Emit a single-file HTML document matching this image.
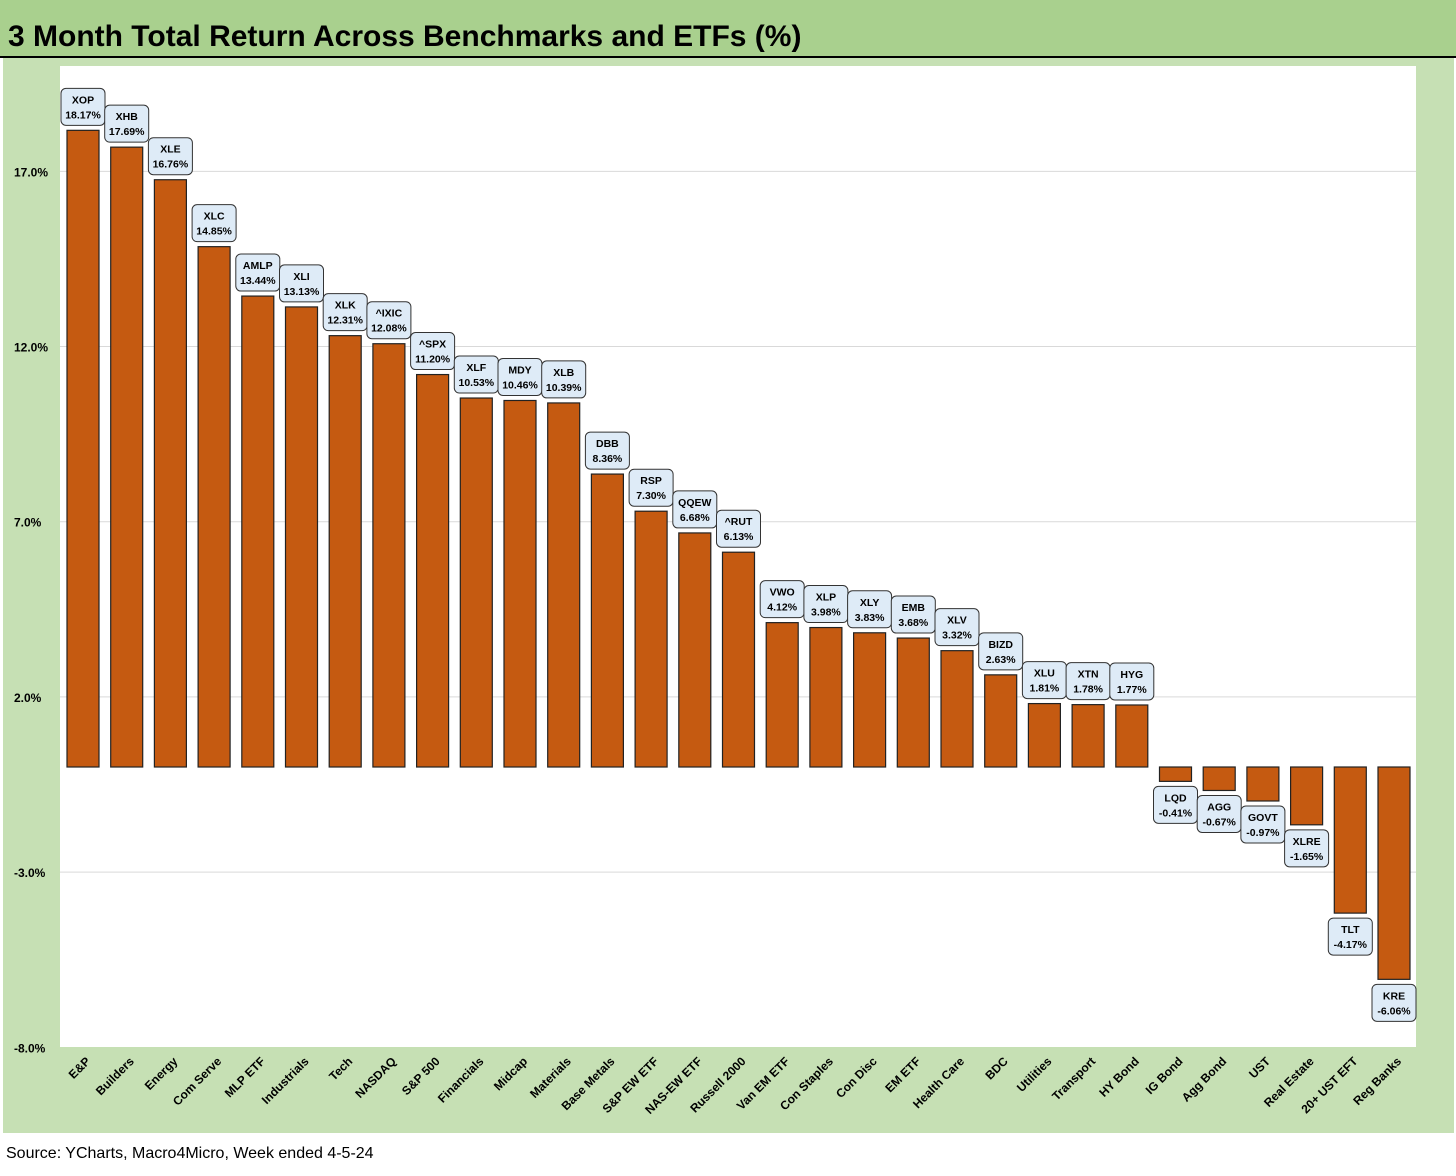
<!DOCTYPE html>
<html><head><meta charset="utf-8"><style>
body{margin:0;width:1456px;height:1171px;overflow:hidden;background:#fff;font-family:"Liberation Sans",Carlito,sans-serif}
</style></head><body>
<svg width="1456" height="1171" xmlns="http://www.w3.org/2000/svg">
<rect x="0" y="0" width="1456" height="56" fill="#a9d08e"/>
<rect x="0" y="56" width="1456" height="2" fill="#000"/>
<text x="8" y="46" font-size="30" font-weight="bold" fill="#000">3 Month Total Return Across Benchmarks and ETFs (%)</text>
<rect x="3" y="58" width="1451" height="1075" fill="#c6e0b4"/>
<rect x="60" y="66" width="1356" height="981" fill="#fff"/>
<g id="grid"></g><g id="bars"></g>
<text x="6" y="1158" font-size="16" fill="#000">Source: YCharts, Macro4Micro, Week ended 4-5-24</text>
</svg>
<script>
const categories=["E&P","Builders","Energy","Com Serve","MLP ETF","Industrials","Tech","NASDAQ","S&P 500","Financials","Midcap","Materials","Base Metals","S&P EW ETF","NAS-EW ETF","Russell 2000","Van EM ETF","Con Staples","Con Disc","EM ETF","Health Care","BDC","Utilities","Transport","HY Bond","IG Bond","Agg Bond","UST","Real Estate","20+ UST EFT","Reg Banks"];
const tickers=["XOP","XHB","XLE","XLC","AMLP","XLI","XLK","^IXIC","^SPX","XLF","MDY","XLB","DBB","RSP","QQEW","^RUT","VWO","XLP","XLY","EMB","XLV","BIZD","XLU","XTN","HYG","LQD","AGG","GOVT","XLRE","TLT","KRE"];
const values=[18.17,17.69,16.76,14.85,13.44,13.13,12.31,12.08,11.20,10.53,10.46,10.39,8.36,7.30,6.68,6.13,4.12,3.98,3.83,3.68,3.32,2.63,1.81,1.78,1.77,-0.41,-0.67,-0.97,-1.65,-4.17,-6.06];
const ticks=[17,12,7,2,-3,-8];
const NS="http://www.w3.org/2000/svg";
const y=v=>767-v*35.04;
const x0=83,step=(1394-83)/(values.length-1);
const xc=i=>x0+i*step;
function mk(t,a,p){const e=document.createElementNS(NS,t);for(const k in a)e.setAttribute(k,a[k]);p.appendChild(e);return e;}
const g=document.getElementById('grid'),b=document.getElementById('bars');
ticks.forEach(t=>{
 if(t>-8){const l=mk('line',{x1:60,x2:1416,y1:y(t),y2:y(t),stroke:'#d9d9d9','stroke-width':1},g);
 
 }
 const tx=mk('text',{x:14,y:y(t)+5,'font-size':12,'font-weight':'bold'},g);tx.textContent=t.toFixed(1)+'%';
 
 
});
values.forEach((v,i)=>{
 const cx=xc(i),top=Math.min(y(v),y(0)),h=Math.abs(y(v)-y(0));
 const r=mk('rect',{x:cx-16,y:top,width:32,height:h,fill:'#c55a11',stroke:'#222','stroke-width':1.2},b);
 
 
 const bw=44,bh=37,by=v>=0?y(v)-5-bh:y(v)+5;
 const bx=mk('rect',{x:cx-bw/2,y:by,width:bw,height:bh,rx:5,fill:'#deebf7',stroke:'#333','stroke-width':1},b);
 
 
 const t1=mk('text',{x:cx,y:by+15,'font-size':10.5,'font-weight':'bold','text-anchor':'middle'},b);t1.textContent=tickers[i];
 
 
 const t2=mk('text',{x:cx,y:by+30,'font-size':10.5,'font-weight':'bold','text-anchor':'middle'},b);t2.textContent=v.toFixed(2)+'%';
 
 
 const c=mk('text',{x:cx+8,y:1062,'font-size':12,'font-weight':'bold','text-anchor':'end',transform:`rotate(-45 ${cx+8} 1062)`},b);c.textContent=categories[i];
 
 
});
</script>
</body></html>
